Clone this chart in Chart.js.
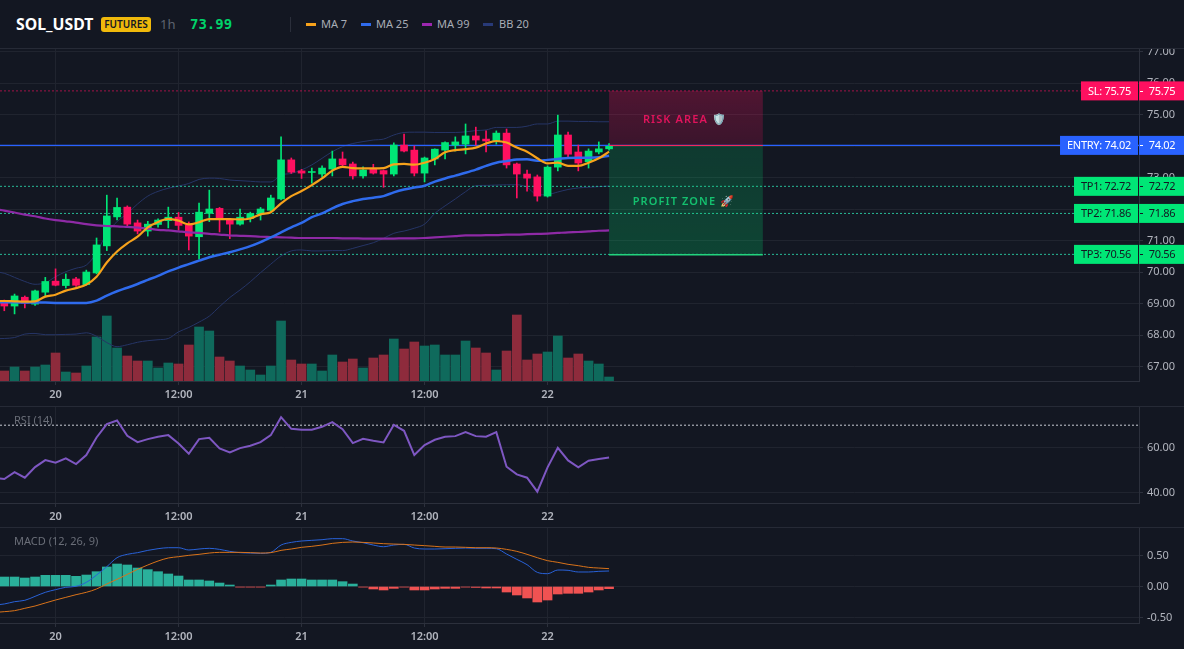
<!DOCTYPE html>
<html>
<head>
<meta charset="utf-8">
<title>SOL_USDT</title>
<script src="https://cdn.jsdelivr.net/npm/chart.js@4/dist/chart.umd.min.js"></script>
<style>
  html, body { margin: 0; padding: 0; background: #131722; overflow: hidden; }
  body { width: 1184px; height: 649px; position: relative; font-family: "Noto Sans", sans-serif; }
  canvas { position: absolute; left: 0; }
  .hdr { position: absolute; white-space: nowrap; line-height: 16px; top: 16px; }
  .rule { position: absolute; left: 0; width: 1184px; height: 1px; background: #262a36; }
  .swatch { position: absolute; top: 23px; width: 10px; height: 3px; }
</style>
</head>
<body>
<div class="hdr" style="left:16px;font-size:15.8px;font-weight:700;color:#fff;">SOL_USDT</div>
<div class="hdr" style="left:101px;top:17px;width:50px;height:15px;line-height:15px;text-align:center;background:#f0b90b;border-radius:3px;color:#131722;font-size:10px;font-weight:600;">FUTURES</div>
<div class="hdr" style="left:160px;font-size:13px;color:#5d6370;">1h</div>
<div class="hdr" style="left:190px;font-family:'DejaVu Sans Mono';font-size:14px;font-weight:700;color:#00d26a;">73.99</div>
<div style="position:absolute;left:290px;top:17px;width:1px;height:15px;background:#2b2f3b;"></div>
<div class="swatch" style="left:306px;background:#f7a21b;"></div>
<div class="hdr" style="left:321px;font-size:11px;color:#a9adb6;">MA 7</div>
<div class="swatch" style="left:361px;background:#2f6bed;"></div>
<div class="hdr" style="left:376px;font-size:11px;color:#a9adb6;">MA 25</div>
<div class="swatch" style="left:422px;background:#9c27b0;"></div>
<div class="hdr" style="left:437px;font-size:11px;color:#a9adb6;">MA 99</div>
<div class="swatch" style="left:483px;background:#283a78;"></div>
<div class="hdr" style="left:499px;font-size:11px;color:#a9adb6;">BB 20</div>
<div class="rule" style="top:48px;"></div>
<div class="rule" style="top:406px;"></div>
<div class="rule" style="top:527px;"></div>
<canvas id="priceChart" width="1184" height="357" style="top:49px;"></canvas>
<canvas id="rsiChart" width="1184" height="120" style="top:407px;"></canvas>
<canvas id="macdChart" width="1184" height="121" style="top:528px;"></canvas>
<script>
// hourly candles, one offscreen bar first so the indicator lines reach the left edge
const opens = [69.10,69.05,68.92,69.20,68.98,69.36,69.71,69.57,69.78,69.60,69.97,70.83,71.75,72.06,71.56,71.30,71.51,71.63,71.74,71.49,71.12,71.86,72.02,71.67,71.52,71.70,71.83,71.96,72.32,73.56,73.21,73.16,73.11,73.27,73.59,73.43,73.05,73.27,73.22,73.11,74.03,73.87,73.14,73.59,73.87,74.03,74.06,74.32,74.22,74.16,74.41,73.43,73.11,73.02,72.41,73.33,74.35,73.81,73.50,73.81,73.91];
const closes = [69.05,68.92,69.24,69.01,69.40,69.70,69.58,69.77,69.58,70.00,70.86,71.78,72.05,71.52,71.30,71.52,71.65,71.74,71.48,71.14,71.90,72.00,71.70,71.52,71.74,71.86,72.00,72.35,73.56,73.17,73.14,73.19,73.30,73.59,73.40,73.05,73.24,73.14,73.11,74.03,73.84,73.14,73.62,73.90,74.11,74.13,74.32,74.19,74.16,74.41,73.40,73.11,72.98,72.41,73.33,74.35,73.74,73.46,73.84,73.91,73.99];
const highs = [69.15,69.11,69.30,69.24,69.43,69.83,70.10,69.94,69.83,70.06,71.08,72.44,72.35,72.10,71.65,71.61,71.69,72.06,71.89,71.59,72.19,72.60,72.05,71.69,72.00,71.90,72.05,72.44,74.29,73.62,73.26,73.30,73.37,73.84,73.81,73.49,73.34,73.42,73.24,74.10,74.38,74.00,73.65,73.91,74.13,74.29,74.70,74.60,74.48,74.48,74.54,73.46,73.24,73.08,73.37,74.98,74.44,74.03,73.91,74.13,74.08];
const lows = [69.00,68.77,68.67,68.86,68.94,69.24,69.56,69.49,69.54,69.58,69.94,70.68,71.65,71.44,71.21,71.14,71.42,71.40,71.33,70.70,70.41,71.60,71.27,71.06,71.49,71.59,71.65,71.93,72.29,73.13,72.97,72.82,73.01,73.05,73.34,72.95,72.98,73.11,72.69,73.05,73.81,73.05,72.86,73.40,73.59,73.84,73.75,74.03,73.81,74.06,73.30,72.35,72.57,72.25,72.38,73.21,73.65,73.21,73.30,73.75,73.87];
const volumes = [12,10,14,10,14,16,28,9,8,15,44,65,33,25,20,20,13,18,17,36,54,50,24,20,15,11,6,15,60,21,17,17,10,26,19,22,13,23,26,42,32,39,35,36,26,26,40,33,28,11,30,66,21,27,29,45,23,27,20,17,4];

const ma7 = [69.08,69.08,69.07,69.06,69.07,69.22,69.28,69.41,69.49,69.60,69.85,70.30,70.65,70.91,71.12,71.42,71.59,71.69,71.63,71.51,71.58,71.68,71.68,71.68,71.67,71.70,71.83,71.90,72.18,72.41,72.57,72.76,72.97,73.22,73.34,73.30,73.29,73.29,73.30,73.42,73.43,73.41,73.47,73.59,73.80,73.87,73.90,73.95,74.08,74.16,74.11,73.95,73.82,73.61,73.45,73.47,73.37,73.37,73.47,73.61,73.82];
const ma25 = [69.04,69.04,69.04,69.03,69.03,69.03,69.02,69.02,69.02,69.02,69.09,69.25,69.39,69.50,69.62,69.75,69.88,70.02,70.14,70.25,70.36,70.47,70.55,70.63,70.72,70.82,70.95,71.10,71.26,71.42,71.56,71.74,71.86,72.02,72.16,72.25,72.32,72.36,72.41,72.53,72.62,72.68,72.74,72.87,72.97,73.06,73.15,73.25,73.37,73.47,73.52,73.57,73.58,73.53,73.56,73.59,73.62,73.63,73.63,73.64,73.69];
const ma99 = [72.00,71.95,71.89,71.82,71.77,71.70,71.65,71.61,71.57,71.52,71.48,71.46,71.45,71.43,71.41,71.38,71.34,71.32,71.29,71.26,71.24,71.21,71.19,71.16,71.15,71.14,71.12,71.11,71.10,71.09,71.08,71.08,71.08,71.08,71.07,71.07,71.06,71.06,71.06,71.06,71.07,71.07,71.08,71.10,71.12,71.14,71.16,71.16,71.17,71.17,71.19,71.19,71.20,71.21,71.22,71.24,71.26,71.27,71.29,71.31,71.32];
const bbUpper = [70.02,69.96,69.83,69.70,69.61,69.66,69.85,70.01,70.12,70.22,70.61,71.23,71.60,71.86,72.16,72.41,72.56,72.66,72.73,72.81,72.94,72.98,72.97,72.92,72.90,72.88,72.86,72.86,73.08,73.13,73.24,73.40,73.61,73.82,73.98,74.08,74.14,74.19,74.22,74.35,74.43,74.44,74.44,74.43,74.43,74.43,74.45,74.49,74.51,74.59,74.59,74.59,74.63,74.70,74.70,74.79,74.79,74.78,74.78,74.77,74.77];
const bbLower = [67.88,67.89,67.92,68.03,68.05,68.01,68.01,68.02,68.03,68.07,67.96,67.76,67.63,67.69,67.77,67.82,67.85,67.89,68.10,68.24,68.41,68.60,68.90,69.19,69.43,69.69,69.98,70.25,70.51,70.67,70.70,70.67,70.67,70.68,70.68,70.75,70.84,70.93,71.07,71.23,71.30,71.39,71.52,71.86,72.10,72.32,72.55,72.74,72.75,72.76,72.77,72.77,72.69,72.45,72.46,72.54,72.62,72.67,72.69,72.71,72.73];

const rsi = [46.76,46.17,49.26,46.76,51.47,54.56,53.38,55.30,52.80,56.77,64.57,70.46,72.08,65.31,62.51,63.84,64.87,65.60,61.92,57.36,63.84,64.42,59.71,57.95,59.86,60.89,62.51,65.60,73.55,68.40,67.96,67.96,69.28,71.34,68.25,62.07,63.98,63.10,62.36,70.17,67.52,56.77,61.19,63.54,64.87,65.16,66.93,65.16,64.87,66.93,51.62,48.23,46.76,40.58,51.32,60.01,54.41,51.32,54.27,55.00,55.74];
const macdLine = [-0.30,-0.282,-0.245,-0.223,-0.159,-0.094,-0.051,-0.013,0.003,0.067,0.185,0.32,0.465,0.519,0.546,0.583,0.61,0.626,0.626,0.589,0.605,0.616,0.599,0.567,0.546,0.54,0.535,0.551,0.669,0.712,0.734,0.745,0.755,0.772,0.772,0.734,0.707,0.669,0.642,0.669,0.68,0.621,0.605,0.605,0.61,0.616,0.621,0.616,0.616,0.61,0.524,0.438,0.352,0.228,0.207,0.266,0.261,0.234,0.234,0.245,0.25];
const signalLine = [-0.42,-0.406,-0.39,-0.352,-0.315,-0.266,-0.218,-0.175,-0.132,-0.094,-0.04,0.04,0.116,0.196,0.277,0.347,0.411,0.46,0.481,0.503,0.519,0.54,0.551,0.551,0.551,0.546,0.54,0.546,0.583,0.605,0.632,0.648,0.669,0.696,0.712,0.718,0.712,0.702,0.691,0.685,0.68,0.669,0.659,0.648,0.637,0.637,0.632,0.626,0.626,0.621,0.599,0.567,0.519,0.465,0.417,0.39,0.358,0.336,0.309,0.298,0.288];
const macdHist = [0.153,0.153,0.153,0.137,0.153,0.18,0.18,0.18,0.164,0.185,0.239,0.315,0.363,0.347,0.298,0.272,0.239,0.202,0.169,0.105,0.105,0.089,0.056,0.024,-0.01,-0.01,-0.01,0.024,0.105,0.121,0.121,0.105,0.105,0.105,0.078,0.04,-0.01,-0.04,-0.056,-0.03,-0.01,-0.056,-0.056,-0.04,-0.03,-0.03,-0.01,-0.015,-0.024,-0.024,-0.089,-0.137,-0.185,-0.25,-0.218,-0.121,-0.11,-0.11,-0.089,-0.056,-0.035];

const priceTicks = [67,68,69,70,71,72,73,74,75,76,77];
const rsiTicks = [40,60];
const macdTicks = [-0.5,0,0.5];
const timeTicks = [6,18,30,42,54];
const timeLabels = ['20','12:00','21','12:00','22'];

const stopLoss = 75.75;
const entry = 74.02;
const targets = [72.72,71.86,70.56];
const rsiLevel = 70;
const zoneFrom = 60;
const zoneTo = 75;

const UP = '#00e676', DOWN = '#ff1060';
const GRID = '#20242f', BORDER = '#2c303c', TICK_TEXT = '#b2b5be';
const FONT = { family: '"Noto Sans", sans-serif', size: 11 };
const X_MIN = 0.58, X_MAX = 111.7;
const AXIS_WIDTH = 45;

Chart.defaults.animation = false;

const points = values => values.map((y, i) => ({ x: i, y }));
const span = y => [{ x: X_MIN, y }, { x: X_MAX, y }];

function lineSet(label, values, color, width, order, axis) {
  return {
    type: 'line', label, data: points(values), borderColor: color, borderWidth: width,
    pointRadius: 0, cubicInterpolationMode: 'monotone', order, yAxisID: axis || 'y'
  };
}

function levelSet(label, y, color, dash, width) {
  return {
    type: 'line', label, data: span(y), borderColor: color, borderWidth: width || 1,
    borderDash: dash, pointRadius: 0, order: 8, yAxisID: 'y'
  };
}

// the panels are stacked by hand, so no scale may add padding for its labels
function noPadding(scale) {
  scale.paddingTop = scale.paddingBottom = scale.paddingLeft = scale.paddingRight = 0;
}

function timeAxis(height) {
  return {
    type: 'linear', min: X_MIN, max: X_MAX, offset: false,
    afterBuildTicks: scale => { scale.ticks = timeTicks.map(value => ({ value })); },
    afterFit: scale => { scale.height = height; noPadding(scale); },
    grid: { color: GRID, offset: false, tickColor: BORDER, tickLength: 4 },
    border: { color: BORDER },
    ticks: {
      color: TICK_TEXT, font: { ...FONT, weight: '600' }, padding: 3, maxRotation: 0, autoSkip: false,
      callback: value => timeLabels[timeTicks.indexOf(value)]
    }
  };
}

function valueAxis(min, max, tickValues) {
  return {
    type: 'linear', position: 'right', min, max,
    afterBuildTicks: scale => { scale.ticks = tickValues.map(value => ({ value })); },
    afterFit: scale => { scale.width = AXIS_WIDTH; noPadding(scale); },
    grid: { color: GRID, tickColor: BORDER, tickLength: 4 },
    border: { color: BORDER },
    ticks: { color: TICK_TEXT, font: FONT, padding: 4, callback: value => value.toFixed(2) }
  };
}

const commonOptions = {
  responsive: false,
  layout: { padding: 0 },
  plugins: { legend: { display: false }, tooltip: { enabled: false } }
};

// shaded risk and profit areas with their captions
const zonesPlugin = {
  id: 'zones',
  afterDatasetsDraw(chart) {
    const { ctx, scales: { x, y } } = chart;
    const left = x.getPixelForValue(zoneFrom), right = x.getPixelForValue(zoneTo);
    const top = y.getPixelForValue(stopLoss), mid = y.getPixelForValue(entry), bottom = y.getPixelForValue(targets[2]);
    const centre = (left + right) / 2;
    ctx.save();
    let fill = ctx.createLinearGradient(0, top, 0, mid);
    fill.addColorStop(0, 'rgba(255,16,96,0.26)');
    fill.addColorStop(1, 'rgba(255,16,96,0.17)');
    ctx.fillStyle = fill;
    ctx.fillRect(left, top, right - left, mid - top);
    fill = ctx.createLinearGradient(0, mid, 0, bottom);
    fill.addColorStop(0, 'rgba(0,230,118,0.17)');
    fill.addColorStop(1, 'rgba(0,230,118,0.22)');
    ctx.fillStyle = fill;
    ctx.fillRect(left, mid, right - left, bottom - mid);
    ctx.fillStyle = '#f0285f';
    ctx.fillRect(left, Math.round(mid), right - left, 1);
    ctx.fillStyle = '#22d47e';
    ctx.fillRect(left, Math.round(bottom), right - left, 1.5);
    ctx.font = '600 11px "Noto Sans", sans-serif';
    ctx.letterSpacing = '1.1px';
    ctx.textBaseline = 'middle';
    ctx.textAlign = 'center';
    ctx.fillStyle = '#e0145c';
    ctx.fillText('RISK AREA 🛡️', centre - 1, (top + mid) / 2 + 2);
    ctx.fillStyle = '#14c06f';
    ctx.fillText('PROFIT ZONE 🚀', centre - 2, (mid + bottom) / 2 + 2);
    ctx.restore();
  }
};

// price tags sitting on the axis for each level
const tagsPlugin = {
  id: 'tags',
  afterDraw(chart) {
    const { ctx, chartArea, scales: { y } } = chart;
    const tags = [
      ['SL', stopLoss, DOWN, '#fff'],
      ['ENTRY', entry, '#2962ff', '#fff'],
      ['TP1', targets[0], UP, '#131722'],
      ['TP2', targets[1], UP, '#131722'],
      ['TP3', targets[2], UP, '#131722']
    ];
    ctx.save();
    ctx.font = '11px "Noto Sans", sans-serif';
    ctx.letterSpacing = '-0.3px';
    ctx.textBaseline = 'middle';
    tags.forEach(([name, value, bg, fg]) => {
      const py = y.getPixelForValue(value), h = 19, axisX = chartArea.right;
      const text = value.toFixed(2), label = name + ': ' + text;
      const w = ctx.measureText(label).width + 14;
      ctx.fillStyle = bg;
      ctx.fillRect(axisX - w - 1, py - h / 2, w, h);
      ctx.fillRect(axisX, py - h / 2, 1184 - axisX, h);
      ctx.fillStyle = fg;
      ctx.textAlign = 'center';
      ctx.fillText(label, axisX - 1 - w / 2, py + 0.5);
      ctx.fillText(text, axisX + 23, py + 0.5);
      ctx.fillRect(axisX + 1, Math.round(py), 3, 1);
    });
    ctx.restore();
  }
};

new Chart(document.getElementById('priceChart'), {
  type: 'bar',
  plugins: [zonesPlugin, tagsPlugin],
  data: {
    datasets: [
      {
        label: 'Volume', yAxisID: 'yVolume', order: 20, barThickness: 9, grouped: false,
        data: points(volumes),
        backgroundColor: volumes.map((_, i) => closes[i] >= opens[i] ? '#0f6a5c' : '#8e2b3c')
      },
      lineSet('BB upper', bbUpper, '#263566', 1, 12),
      lineSet('BB lower', bbLower, '#263566', 1, 12),
      levelSet('SL', stopLoss, 'rgba(255,16,96,0.6)', [2, 2]),
      levelSet('Entry', entry, '#2962ff', [], 1.2),
      levelSet('TP1', targets[0], 'rgba(44,214,170,0.85)', [2, 2]),
      levelSet('TP2', targets[1], 'rgba(44,214,170,0.85)', [2, 2]),
      levelSet('TP3', targets[2], 'rgba(44,214,170,0.85)', [2, 2]),
      {
        label: 'Wicks', order: 7, barThickness: 1, grouped: false,
        data: lows.map((low, i) => ({ x: i, y: [low, highs[i]] })),
        backgroundColor: opens.map((o, i) => closes[i] >= o ? UP : DOWN)
      },
      {
        label: 'Bodies', order: 6, barThickness: 7, grouped: false,
        data: opens.map((o, i) => ({ x: i, y: [o, closes[i]] })),
        backgroundColor: opens.map((o, i) => closes[i] >= o ? UP : DOWN)
      },
      lineSet('MA 99', ma99, '#8e2aa6', 2.2, 3),
      lineSet('MA 25', ma25, '#2f6bed', 2.5, 2),
      lineSet('MA 7', ma7, '#f7a21b', 2.2, 1)
    ]
  },
  options: {
    ...commonOptions,
    scales: {
      x: timeAxis(25),
      y: valueAxis(66.54, 77.08, priceTicks),
      yVolume: { type: 'linear', display: false, min: 0, max: 332 }
    }
  }
});

const panelCaption = {
  id: 'caption',
  afterDraw(chart) {
    const { ctx } = chart;
    ctx.save();
    ctx.font = '11px "Noto Sans", sans-serif';
    ctx.fillStyle = '#6a6e78';
    ctx.textBaseline = 'middle';
    ctx.fillText(chart.options.plugins.caption.text, 14, chart.options.plugins.caption.y);
    ctx.restore();
  }
};

new Chart(document.getElementById('rsiChart'), {
  type: 'line',
  plugins: [panelCaption],
  data: {
    datasets: [
      {
        label: 'Level', data: span(rsiLevel), borderColor: '#c8ccd4', borderWidth: 1,
        borderDash: [2, 2], pointRadius: 0, order: 2
      },
      {
        label: 'RSI', data: points(rsi), borderColor: '#7e57c2', borderWidth: 2,
        pointRadius: 0, tension: 0, order: 1
      }
    ]
  },
  options: {
    ...commonOptions,
    plugins: { ...commonOptions.plugins, caption: { text: 'RSI (14)', y: 14 } },
    scales: { x: timeAxis(24), y: valueAxis(35.57, 78.05, rsiTicks) }
  }
});

new Chart(document.getElementById('macdChart'), {
  type: 'bar',
  plugins: [panelCaption],
  data: {
    datasets: [
      {
        label: 'Histogram', data: points(macdHist), barThickness: 9, grouped: false, order: 3,
        backgroundColor: macdHist.map(v => v >= 0 ? '#2ab09b' : '#f05252')
      },
      lineSet('MACD', macdLine, '#2962d8', 1, 2),
      lineSet('Signal', signalLine, '#d9731a', 1, 1)
    ]
  },
  options: {
    ...commonOptions,
    plugins: { ...commonOptions.plugins, caption: { text: 'MACD (12, 26, 9)', y: 14 } },
    scales: { x: timeAxis(26), y: valueAxis(-0.589, 0.944, macdTicks) }
  }
});
</script>
</body>
</html>
